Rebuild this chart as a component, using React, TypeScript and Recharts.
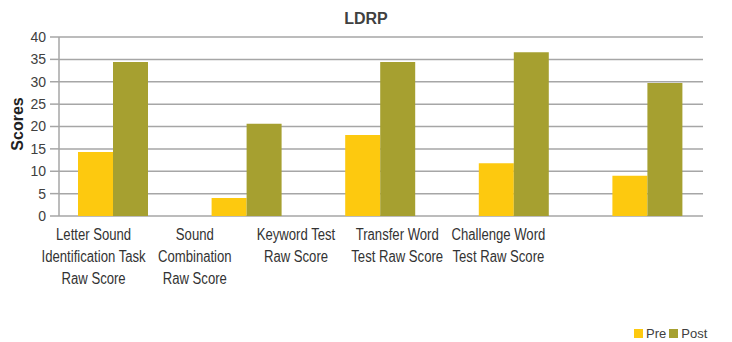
import { BarChart, Bar, XAxis, YAxis, CartesianGrid } from "recharts";

// LDRP pre/post raw scores by subtest
const categories = [
  "Letter Sound\nIdentification Task\nRaw Score",
  "Sound\nCombination\nRaw Score",
  "Keyword Test\nRaw Score",
  "Transfer Word\nTest Raw Score",
  "Challenge Word\nTest Raw Score",
];
const preScores = [14.3, 4.0, 18.1, 11.8, 9.0];
const postScores = [34.4, 20.6, 34.4, 36.6, 29.7];
const yTicks = [0, 5, 10, 15, 20, 25, 30, 35, 40];

const series = [
  { key: "pre", name: "Pre", color: "#FDC90F" },
  { key: "post", name: "Post", color: "#A6A030" },
];

const data = categories.map((name, i) => ({ name, pre: preScores[i], post: postScores[i] }));

const TEXT = "#404040";
const GRID = "#A6A6A6";
const SANS = "'Liberation Sans', Arial, sans-serif";

// multi-line category label, squeezed horizontally to a narrow face
function CategoryTick(props: any) {
  const { x, y, payload } = props;
  const lines = String(payload.value).split("\n");
  return (
    <g transform={`translate(${x},${y}) scale(0.82,1)`}>
      <text x={0} y={0} textAnchor="middle" fill="#333" fontSize={16} fontFamily={SANS}>
        {lines.map((l, i) => (
          <tspan key={i} x={0} dy={i === 0 ? 16 : 22}>
            {l}
          </tspan>
        ))}
      </text>
    </g>
  );
}

export default function App() {
  return (
    <div style={{ position: "absolute", left: 0, top: 0, width: 732, height: 342, background: "#fff" }}>
      <div
        style={{
          position: "absolute",
          top: 10,
          width: 732,
          textAlign: "center",
          fontFamily: SANS,
          fontWeight: "bold",
          fontSize: 16,
          color: TEXT,
        }}
      >
        LDRP
      </div>
      <BarChart
        width={732}
        height={342}
        data={data}
        margin={{ top: 37, right: 29, bottom: 46, left: 0 }}
        barCategoryGap={32}
        barGap={0}
      >
        <CartesianGrid horizontal vertical={false} stroke={GRID} strokeWidth={1.5} />
        <XAxis dataKey="name" xAxisId="bars" hide height={0} padding={{ left: -13, right: -11 }} />
        <XAxis
          dataKey="name"
          xAxisId="labels"
          height={80}
          padding={{ left: -16, right: 154 }}
          axisLine={false}
          tickLine={false}
          interval={0}
          tick={<CategoryTick />}
        />
        <YAxis
          width={59}
          domain={[0, 40]}
          ticks={yTicks}
          interval={0}
          tickSize={9}
          tickMargin={4}
          tickLine={{ stroke: GRID, strokeWidth: 1.5 }}
          axisLine={{ stroke: GRID, strokeWidth: 1.5 }}
          tick={{ fill: TEXT, fontSize: 14, fontFamily: SANS }}
        />
        {series.map((s) => (
          <Bar key={s.key} dataKey={s.key} xAxisId="bars" fill={s.color} isAnimationActive={false} />
        ))}
      </BarChart>
      <div
        style={{
          position: "absolute",
          left: 18,
          top: 124,
          transform: "translate(-50%, -50%) rotate(-90deg)",
          fontFamily: SANS,
          fontWeight: "bold",
          fontSize: 16,
          color: "#222",
          whiteSpace: "nowrap",
        }}
      >
        Scores
      </div>
      <div
        style={{
          position: "absolute",
          left: 634,
          top: 326,
          display: "flex",
          alignItems: "center",
          fontFamily: SANS,
          fontSize: 13,
          color: TEXT,
        }}
      >
        {series.map((s) => (
          <span key={s.key} style={{ display: "flex", alignItems: "center", marginRight: 3 }}>
            <span style={{ width: 9, height: 9, background: s.color, marginRight: 3 }} />
            {s.name}
          </span>
        ))}
      </div>
    </div>
  );
}
